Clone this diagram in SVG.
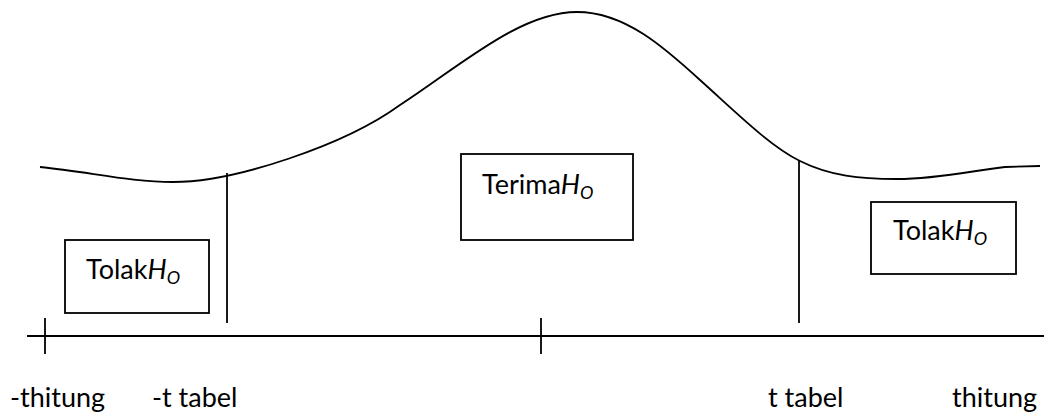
<svg xmlns="http://www.w3.org/2000/svg" width="1044" height="414" viewBox="0 0 1044 414">
<style>
.ln{fill:none;stroke:#000;stroke-width:1.8}
.box{fill:#fff;stroke:#000;stroke-width:1.8}
text{font-family:Lato,"Open Sans",sans-serif;font-size:27px;fill:#000}
.it{font-style:italic}
.sub{font-style:italic;font-size:18px}
</style>
<rect width="1044" height="414" fill="#fff"/>
<g id="connectors">
<path class="ln" d="M40,167 C90,172 130,182 173,182 C235,182 345,145 400,105 C460,66 520,12 577,12 C625,12 665,48 700,80 C740,116 770,146 800,161 C830,176 860,179 897,179 C940,179 975,170 1005,167 L1040,166"/>
<line class="ln" x1="27" y1="336" x2="1044" y2="336"/>
<line class="ln" x1="45" y1="318" x2="45" y2="354"/>
<line class="ln" x1="541" y1="318" x2="541" y2="354"/>
<line class="ln" x1="227" y1="173" x2="227" y2="323"/>
<line class="ln" x1="799" y1="160" x2="799" y2="323"/>
</g>
<g id="tolak-left">
<rect class="box" x="65" y="240" width="144" height="73"/>
<text x="86" y="279">Tolak<tspan class="it">H</tspan><tspan class="sub" dy="5">O</tspan></text>
</g>
<g id="terima">
<rect class="box" x="461" y="154" width="172" height="86"/>
<text x="482" y="194">Terima<tspan class="it">H</tspan><tspan class="sub" dy="5">O</tspan></text>
</g>
<g id="tolak-right">
<rect class="box" x="871" y="202" width="145" height="72"/>
<text x="893" y="240">Tolak<tspan class="it">H</tspan><tspan class="sub" dy="5">O</tspan></text>
</g>
<g id="labels">
<text x="10" y="407">-thitung</text>
<text x="152" y="407">-t tabel</text>
<text x="768" y="407">t tabel</text>
<text x="952" y="407">thitung</text>
</g>
</svg>
